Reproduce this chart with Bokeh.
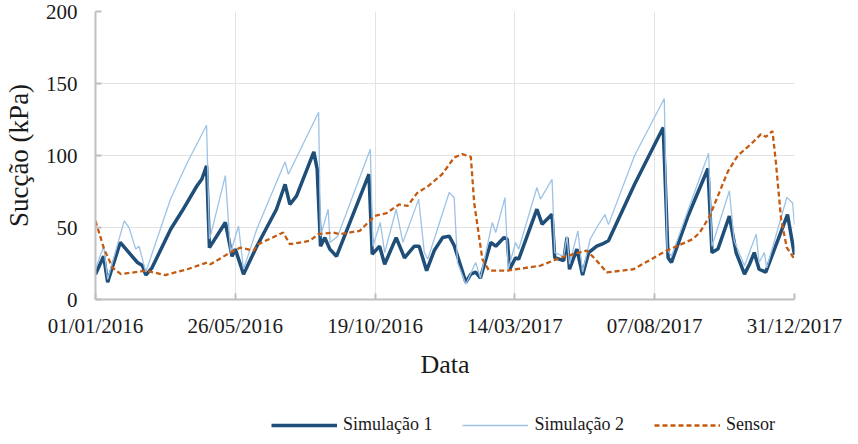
from bokeh.plotting import figure
from bokeh.models import FixedTicker, Legend, LegendItem, Range1d
from bokeh.layouts import column
from bokeh.embed import file_html
from bokeh.resources import INLINE

# x values: days since 01/01/2016
tick_days = [0, 146, 292, 438, 584, 730]
tick_labels = ["01/01/2016", "26/05/2016", "19/10/2016", "14/03/2017", "07/08/2017", "31/12/2017"]
y_ticks = [0, 50, 100, 150, 200]
series_names = ["Simulação 1", "Simulação 2", "Sensor"]

sim1_day = [0, 8.5, 12.7, 25.8, 43.8, 49, 52.5, 59, 78.5, 90.6, 106, 111, 116, 119, 135.6, 142.6, 146,
            154.6, 168.5, 189, 198, 203, 210, 228, 231.5, 235, 239.5, 244.7, 251.7, 285.6, 289, 296.7,
            302, 314, 322.7, 333, 338, 345.8, 353.8, 362.5, 369.4, 374.6, 386.8, 392, 397, 402, 412.8,
            418, 426.6, 430, 432.5, 438.7, 442, 461, 466.4, 476.8, 479.6, 489, 492.4, 495, 502.8, 508.7,
            515, 523.5, 528.8, 535.7, 563, 592.9, 598, 601.5, 618.8, 639.6, 643.8, 650, 662, 669, 677.8,
            683, 688, 693, 700, 722.7, 730]
sim1_val = [17.6, 30, 12, 39.6, 25.7, 23.6, 17, 22, 48.8, 61.6, 79, 83.5, 92.8, 36, 53.5, 30, 35,
            17.6, 37, 62.7, 80, 66, 72, 102.5, 90.5, 37, 43, 35, 30, 87, 31.5, 37,
            24.5, 43, 29, 37, 37, 20, 34, 43, 44, 37.5, 12, 17.6, 19, 15, 39.6,
            37, 43, 42, 21, 29, 28, 62.7, 52.3, 59.2, 29, 27, 43, 21, 35, 17,
            32.6, 37, 38.4, 40.8, 80, 119.4, 29, 25.7, 58, 91, 32.6, 35, 58, 32.6, 17.6,
            24.5, 32.6, 21, 19, 59, 31]

sim2_day = [0, 8.5, 12.7, 30, 35, 42, 45.5, 52.5, 78.5, 95.8, 116, 119, 120, 135.6, 141, 149.4, 154.6,
            168.5, 198, 201.4, 233, 235, 243, 245, 253, 287, 289.7, 297.4, 302, 314, 321, 337.5, 343.4,
            347, 369.4, 374.6, 378, 386.8, 397, 402, 414.4, 418, 427.6, 431, 438.7, 442, 461, 464.7,
            476.8, 479.6, 489, 492.4, 495, 503.8, 508.7, 516.7, 523.5, 532, 535.7, 563, 594, 597, 601.5,
            640.3, 643.8, 662, 667, 677.8, 690, 693, 698.5, 701, 722, 728, 730]
sim2_val = [21, 37, 14, 54.6, 50, 35, 37, 19, 70, 95, 121, 42, 44, 86, 32.6, 51, 21,
            49, 95.6, 87, 130, 44, 62.7, 39.6, 44, 104.4, 37, 53.5, 32.6, 62.7, 39.6, 69.7, 32.6,
            28, 74.3, 70.8, 25.7, 10.6, 25.7, 15, 53.5, 46.5, 70.8, 21, 39.6, 35, 77.8, 69.7,
            83.5, 32.6, 30, 44, 24.5, 47.7, 19, 42, 50, 59, 52, 100, 139.6, 35, 30,
            101.6, 37, 75.5, 40.8, 23.4, 45.4, 25.7, 32.6, 22, 70.8, 67, 52]

sens_day = [0, 9, 18, 26.5, 52.5, 73, 95.8, 116.6, 120, 140.8, 151, 165, 170, 196, 203, 224, 232.6,
            248, 255, 276, 291.5, 304, 317, 326, 336, 348, 362, 374.6, 383, 392, 395.5, 404, 411,
            430, 465, 485.5, 513, 522, 534, 561.7, 596, 624, 631, 641.6, 650, 660.5, 670.8, 684.6,
            695, 700, 707, 710.6, 716, 722, 730]
sens_val = [54.6, 35, 22, 17.6, 20, 17, 21, 25.7, 24.5, 32.6, 36, 34, 38.4, 46.5, 38.4, 40.8, 45.4,
            46.5, 45.4, 47.7, 58, 60, 66, 65, 74, 79, 87, 98.6, 101, 99, 67, 28, 20,
            20, 23.6, 29, 34, 28, 18.8, 21, 33.8, 42, 46.5, 58, 72, 89, 100, 108,
            114.8, 113, 117, 95, 55.8, 36, 28]

FONT = "Liberation Serif"
TXT = "#1a1a1a"
styles = [dict(line_color="#1f4e79", line_width=3.5),
          dict(line_color="#9dc3e6", line_width=1.3),
          dict(line_color="#c55a11", line_width=2.3, line_dash="5 3")]

p = figure(width=842, height=404, output_backend="svg", toolbar_location=None,
           x_range=Range1d(0, 730), y_range=Range1d(0, 200),
           min_border_left=92, min_border_right=48, min_border_top=11, min_border_bottom=105)
p.outline_line_color = None
p.background_fill_color = "white"
p.border_fill_color = "white"

p.line(sim1_day, sim1_val, **styles[0])
p.line(sim2_day, sim2_val, **styles[1])
p.line(sens_day, sens_val, **styles[2])

p.xaxis.ticker = FixedTicker(ticks=tick_days)
p.xaxis.major_label_overrides = {d: lab for d, lab in zip(tick_days, tick_labels)}
p.yaxis.ticker = FixedTicker(ticks=y_ticks)

for ax in (p.xaxis, p.yaxis):
    ax.axis_line_color = "#bfbfbf"
    ax.axis_line_width = 2
    ax.major_tick_line_color = "#bfbfbf"
    ax.major_tick_line_width = 2
    ax.major_tick_in = 6
    ax.major_tick_out = 0
    ax.minor_tick_line_color = None
    ax.major_label_text_font = FONT
    ax.major_label_text_font_size = "21px"
    ax.major_label_text_color = TXT
    ax.axis_label_text_font = FONT
    ax.axis_label_text_font_style = "normal"
    ax.axis_label_text_color = TXT

p.xaxis.axis_label = "Data"
p.xaxis.axis_label_text_font_size = "26px"
p.xaxis.major_label_standoff = 14
p.xaxis.axis_label_standoff = 9
p.yaxis.axis_label = "Sucção (kPa)"
p.yaxis.axis_label_text_font_size = "27px"
p.yaxis.major_label_standoff = 18
p.yaxis.axis_label_standoff = 9

p.xgrid.grid_line_color = "#e3e3e3"
p.ygrid.grid_line_color = "#e3e3e3"
p.xgrid.grid_line_width = 1
p.ygrid.grid_line_width = 1

# legend strip below the chart (no axes, frame covers the whole strip)
pl = figure(width=842, height=32, output_backend="svg", toolbar_location=None,
            x_range=Range1d(0, 730), y_range=Range1d(1000, 1001),
            x_axis_location=None, y_axis_location=None,
            min_border_left=0, min_border_right=0, min_border_top=0, min_border_bottom=0)
pl.grid.visible = False
pl.outline_line_color = None
pl.background_fill_color = "white"
pl.border_fill_color = "white"
dummy = [pl.line(sim1_day, sim1_val, **styles[0]),
         pl.line(sim2_day, sim2_val, **styles[1]),
         pl.line(sens_day, sens_val, **styles[2])]

legend = Legend(items=[LegendItem(label=n, renderers=[r]) for n, r in zip(series_names, dummy)],
                location=(176, 1), orientation="horizontal",
                glyph_width=66, glyph_height=20, label_height=20, label_standoff=6, spacing=30,
                padding=0, margin=0, border_line_color=None, background_fill_alpha=0,
                label_text_font=FONT, label_text_font_size="18px", label_text_color=TXT)
pl.add_layout(legend)

layout = column(p, pl, spacing=0)
open("out.html", "w").write(file_html(layout, INLINE))
